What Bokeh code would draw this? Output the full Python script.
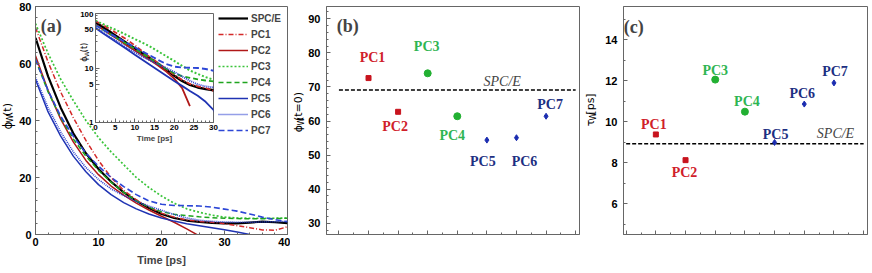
import math
from bokeh.plotting import figure
from bokeh.models import (Range1d, Label, Legend, LegendItem, SingleIntervalTicker,
                          FixedTicker, GridBox, BasicTickFormatter)
from bokeh.core.properties import value
from bokeh.embed import file_html
from bokeh.resources import INLINE

NaN = float("nan")

# ---------------- data ----------------
time_ps = [0, 2, 4, 6, 8, 10, 12, 14, 16, 18, 20, 22, 24, 26, 28, 30, 32, 34, 36, 38, 40]
phi_spce = [69.0, 55.5, 44.5, 35.5, 28.5, 23.0, 18.5, 14.8, 11.8, 9.3, 7.2, 5.8, 4.9, 4.4, 4.1, 3.9, 3.9, 4.2, 4.5, 4.3, 4.0]
phi_pc1 = [72.6, 60.5, 50.0, 41.0, 33.0, 26.0, 20.0, 15.5, 12.2, 9.6, 7.5, 6.1, 5.1, 4.6, 4.3, 3.8, 3.1, 2.4, 1.6, 1.5, 2.7]
phi_pc2 = [62.7, 50.5, 40.5, 32.5, 26.0, 21.0, 17.0, 13.8, 11.0, 8.6, 6.4, 4.3, 2.0, -0.5, NaN, NaN, NaN, NaN, NaN, NaN, NaN]
phi_pc3 = [74.0, 63.5, 54.5, 47.0, 40.0, 34.0, 29.0, 24.5, 20.0, 16.5, 13.5, 11.0, 9.0, 7.8, 6.8, 6.1, 5.8, 5.7, 5.7, 5.7, 5.8]
phi_pc4 = [61.4, 50.0, 41.0, 33.5, 27.5, 22.5, 18.3, 14.8, 11.8, 9.6, 8.0, 7.1, 6.6, 6.2, 5.9, 5.7, 5.6, 5.5, 5.5, 5.6, 5.7]
phi_pc5 = [54.4, 43.0, 34.5, 27.5, 22.0, 17.5, 14.0, 11.2, 9.0, 7.2, 5.8, 4.7, 3.8, 3.1, 2.4, 1.7, 0.9, 0.0, NaN, NaN, NaN]
phi_pc6 = [55.1, 44.5, 36.0, 29.0, 23.5, 19.3, 16.0, 13.6, 11.6, 10.0, 8.5, 7.0, 5.8, 5.0, 4.6, 4.4, 4.3, 4.3, 4.4, 4.5, 4.6]
phi_pc7 = [61.4, 50.5, 41.5, 34.5, 28.5, 24.0, 20.0, 16.8, 14.0, 11.8, 10.6, 10.2, 10.1, 10.0, 9.6, 8.9, 8.2, 7.2, 6.1, 5.2, 4.5]

series_names = ["SPC/E", "PC1", "PC2", "PC3", "PC4", "PC5", "PC6", "PC7"]
series_values = [phi_spce, phi_pc1, phi_pc2, phi_pc3, phi_pc4, phi_pc5, phi_pc6, phi_pc7]

models = ["PC1", "PC2", "PC3", "PC4", "PC5", "PC6", "PC7"]
phi_t0 = [72.6, 62.7, 74.0, 61.4, 54.4, 55.1, 61.4]
phi_t0_spce = 69.1
tau_w = [9.38, 8.13, 12.05, 10.49, 8.99, 10.86, 11.89]
tau_w_spce = 8.93

# ---------------- styles ----------------
FRAME = "#666666"
SANS = "Liberation Sans"
SERIF = "Liberation Serif"
LINE_STYLE = {
    "SPC/E": ("#000000", "solid", 2.2),
    "PC1": ("#d42a2a", "5 2 1 2", 1.5),
    "PC2": ("#b01818", "solid", 1.5),
    "PC3": ("#3ac43a", "2 2", 1.7),
    "PC4": ("#1fa51f", "5 3", 1.5),
    "PC5": ("#1f33b3", "solid", 1.5),
    "PC6": ("#2a3fd0", "1 1", 1.6),
    "PC7": ("#2c46d6", "6 3", 1.6),
}
MK_SHAPE = ["square", "square", "circle", "circle", "diamond", "diamond", "diamond"]
MK_SIZE = [5, 5, 7, 7, 6, 6, 6]
MK_COLOR = ["#c8141e", "#c8141e", "#22b032", "#22b032", "#1a2cb0", "#1a2cb0", "#1a2cb0"]
TXT_COLOR = ["#d0202a", "#d0202a", "#2fb552", "#2fb552", "#1d2f82", "#1d2f82", "#1d2f82"]
OFF_B = [(4, -21), (-3, 15), (-1, -27), (-5, 19), (-4, 21), (8, 24), (4, -12)]
OFF_C = [(-2, -10), (-1, 12), (0, -9), (2, -10), (1, -8), (-2, -11), (1, -11)]

model_pos = list(range(1, len(models) + 1))


def style_axes(p, size="11px", standoff=4):
    for ax in p.axis:
        ax.axis_line_color = FRAME
        ax.major_tick_line_color = FRAME
        ax.minor_tick_line_color = FRAME
        ax.major_tick_in = 4
        ax.major_tick_out = 0
        ax.minor_tick_in = 2
        ax.minor_tick_out = 0
        ax.major_label_text_font = SANS
        ax.major_label_text_font_style = "bold"
        ax.major_label_text_font_size = size
        ax.major_label_text_color = "black"
        ax.major_label_standoff = standoff
    p.outline_line_color = FRAME
    p.grid.visible = False


# frame geometry (page pixels) and pixel -> data helpers for annotations
TOP, BOT = 6, 234
FH = BOT - TOP
fx_a = lambda xs: 40.0 * (xs - 35) / 252.0
fy_a = lambda ys: 80.0 * (BOT - ys) / FH
XB = (-0.42, 8.13)
YB = (26.7, 93.6)
fx_b = lambda xs: XB[0] + (XB[1] - XB[0]) * (xs - 326) / 253.0
fy_b = lambda ys: YB[0] + (YB[1] - YB[0]) * (BOT - ys) / FH
XC = (-0.09, 8.13)
YC = (4.51, 15.61)
fx_c = lambda xs: XC[0] + (XC[1] - XC[0]) * (xs - 623) / 244.0
fy_c = lambda ys: YC[0] + (YC[1] - YC[0]) * (BOT - ys) / FH

# panels occupy page y 1..272 (height 271): top border 5 -> frame top 6, bottom border 38 -> 234
PH = 271

# ---------------- panel (a) ----------------
pa = figure(width=289, height=PH, x_range=Range1d(0, 40), y_range=Range1d(0, 80),
            output_backend="svg", toolbar_location=None,
            min_border_left=34, min_border_right=3, min_border_top=5, min_border_bottom=38)
pa.xaxis.ticker = SingleIntervalTicker(interval=10, num_minor_ticks=5)
pa.yaxis.ticker = SingleIntervalTicker(interval=20, num_minor_ticks=5)
style_axes(pa, "11px", 4)
pa.xaxis.major_label_standoff = 3
pa.xaxis.axis_label = "Time [ps]"
pa.xaxis.axis_label_text_font = SANS
pa.xaxis.axis_label_text_font_style = "bold"
pa.xaxis.axis_label_text_font_size = "11px"
pa.xaxis.axis_label_standoff = 5

items = []
for name, vals in zip(series_names, series_values):
    col, dash, w = LINE_STYLE[name]
    r = pa.line(time_ps, vals, line_color=col, line_dash=dash, line_width=w)
    items.append(LegendItem(label=name, renderers=[r]))
legend = Legend(items=items, location=(183, 96), glyph_width=30, glyph_height=16,
                label_height=16, spacing=0, padding=0, margin=0, label_standoff=3,
                label_text_font=SANS, label_text_font_style="bold",
                label_text_font_size="10px", border_line_alpha=0,
                background_fill_alpha=0)
pa.add_layout(legend)
pa.add_layout(Label(x=fx_a(50.7), y=fy_a(25), text="(a)", text_align="center",
                    text_baseline="middle", text_font=SERIF, text_font_style="bold",
                    text_font_size="18px"))

# ---------------- inset ----------------
pin = figure(width=154, height=135, x_range=Range1d(0, 30), y_range=Range1d(1, 100),
             y_axis_type="log", output_backend="svg", toolbar_location=None,
             min_border_left=30, min_border_right=6, min_border_top=2, min_border_bottom=24,
             border_fill_alpha=0, background_fill_color="white")
pin.xaxis.ticker = SingleIntervalTicker(interval=5, num_minor_ticks=5)
pin.yaxis.ticker = FixedTicker(ticks=[1, 5, 10, 50, 100],
                               minor_ticks=[2, 3, 4, 6, 7, 8, 9, 20, 30, 40, 60, 70, 80, 90])
pin.yaxis.formatter = BasicTickFormatter()
style_axes(pin, "8px", 2)
pin.xaxis.axis_label = "Time [ps]"
pin.xaxis.axis_label_text_font = SANS
pin.xaxis.axis_label_text_font_style = "bold"
pin.xaxis.axis_label_text_font_size = "8px"
pin.xaxis.axis_label_standoff = 1
for name, vals in zip(series_names, series_values):
    col, dash, w = LINE_STYLE[name]
    tt = [t for t, v in zip(time_ps, vals) if v == v and v > 0]
    vv = [v for v in vals if v == v and v > 0]
    pin.line(tt, vv, line_color=col, line_dash=dash, line_width=w + 0.3)

# ---------------- panel (b) ----------------
pb = figure(width=290, height=PH, x_range=Range1d(*XB), y_range=Range1d(*YB),
            output_backend="svg", toolbar_location=None,
            min_border_left=36, min_border_right=1, min_border_top=5, min_border_bottom=38)
pb.xaxis.ticker = SingleIntervalTicker(interval=1, num_minor_ticks=2)
pb.yaxis.ticker = SingleIntervalTicker(interval=10, num_minor_ticks=5)
style_axes(pb, "11px", 6)
pb.xaxis.major_label_overrides = {i: "" for i in range(0, 9)}
x_ends = [0, len(models) + 1]
pb.line(x_ends, [phi_t0_spce] * 2, line_color="black", line_dash="4 2", line_width=1.5)
pb.scatter(model_pos, phi_t0, marker=MK_SHAPE, size=MK_SIZE, color=MK_COLOR)
pb.text(model_pos, phi_t0, text=models, x_offset=[o[0] for o in OFF_B],
        y_offset=[o[1] for o in OFF_B], text_align="center", text_baseline="middle",
        text_font=value(SERIF), text_font_style="bold", text_font_size="14px",
        text_color=TXT_COLOR)
pb.add_layout(Label(x=fx_b(501.7), y=fy_b(81), text="SPC/E", text_align="center",
                    text_baseline="middle", text_font=SERIF, text_font_style="italic",
                    text_font_size="14px"))
pb.add_layout(Label(x=fx_b(347.3), y=fy_b(25), text="(b)", text_align="center",
                    text_baseline="middle", text_font=SERIF, text_font_style="bold",
                    text_font_size="18px"))

# ---------------- panel (c) ----------------
pc = figure(width=291, height=PH, x_range=Range1d(*XC), y_range=Range1d(*YC),
            output_backend="svg", toolbar_location=None,
            min_border_left=43, min_border_right=4, min_border_top=5, min_border_bottom=38)
pc.xaxis.ticker = SingleIntervalTicker(interval=1, num_minor_ticks=2)
pc.yaxis.ticker = SingleIntervalTicker(interval=2, num_minor_ticks=2)
style_axes(pc, "11px", 6)
pc.xaxis.major_label_overrides = {i: "" for i in range(0, 9)}
pc.line(x_ends, [tau_w_spce] * 2, line_color="black", line_dash="4 2", line_width=1.5)
pc.scatter(model_pos, tau_w, marker=MK_SHAPE, size=MK_SIZE, color=MK_COLOR)
pc.text(model_pos, tau_w, text=models, x_offset=[o[0] for o in OFF_C],
        y_offset=[o[1] for o in OFF_C], text_align="center", text_baseline="middle",
        text_font=value(SERIF), text_font_style="bold", text_font_size="14px",
        text_color=TXT_COLOR)
pc.add_layout(Label(x=fx_c(835), y=fy_c(133.3), text="SPC/E", text_align="center",
                    text_baseline="middle", text_font=SERIF, text_font_style="italic",
                    text_font_size="14px"))
pc.add_layout(Label(x=fx_c(633.3), y=fy_c(26), text="(c)", text_align="center",
                    text_baseline="middle", text_font=SERIF, text_font_style="bold",
                    text_font_size="18px"))

# ---------------- overlay for the rotated axis titles (page-pixel space) ----------------
po = figure(width=872, height=273, x_range=Range1d(0, 872), y_range=Range1d(273, 0),
            output_backend="svg", toolbar_location=None,
            min_border_left=0, min_border_right=0, min_border_top=0, min_border_bottom=0,
            x_axis_location=None, y_axis_location=None,
            background_fill_alpha=0, border_fill_alpha=0, outline_line_color=None)
po.grid.visible = False

TX, TY, TT, TS, TD = [], [], [], [], []


def vlabel(x, yc, parts):
    total = sum(pt[2] for pt in parts)
    y = yc + total / 2.0
    for text, fs, ln, dx in parts:
        TX.append(x)
        TY.append(y - ln / 2.0)
        TT.append(text)
        TS.append(f"{fs}px")
        TD.append(dx)
        y -= ln


vlabel(7, 116, [("ϕ", 12, 7, 0), ("W", 8, 7, 3), ("(t)", 11, 11, 0)])
vlabel(84, 52, [("ϕ", 8, 5, 0), ("W", 6, 5, 2), ("(t)", 8, 8, 0)])
vlabel(298, 113, [("ϕ", 11, 7, 0), ("W", 8, 7, 3), ("(t=0)", 11, 23, 0)])
vlabel(590, 110, [("τ", 11, 6, 0), ("W", 8, 7, 3), ("[ps]", 11, 18, 0)])
po.text(TX, TY, text=TT, text_font_size=TS, x_offset=TD, angle=math.pi / 2,
        text_align="center", text_baseline="middle", text_font=value("DejaVu Sans"),
        text_color="black")

# ---------------- layout ----------------
# extra 1px outer tracks keep the overlay's frame from being aligned with the panels' frames
grid = GridBox(children=[(pa, 1, 1, 3, 3), (pin, 2, 2, 1, 1), (pb, 1, 4, 3, 1),
                         (pc, 1, 5, 3, 1), (po, 0, 0, 5, 7)],
               cols=["1px", "64px", "154px", "71px", "290px", "291px", "1px"],
               rows=["1px", "10px", "135px", "126px", "1px"], spacing=0)

open("out.html", "w").write(file_html(grid, INLINE))
